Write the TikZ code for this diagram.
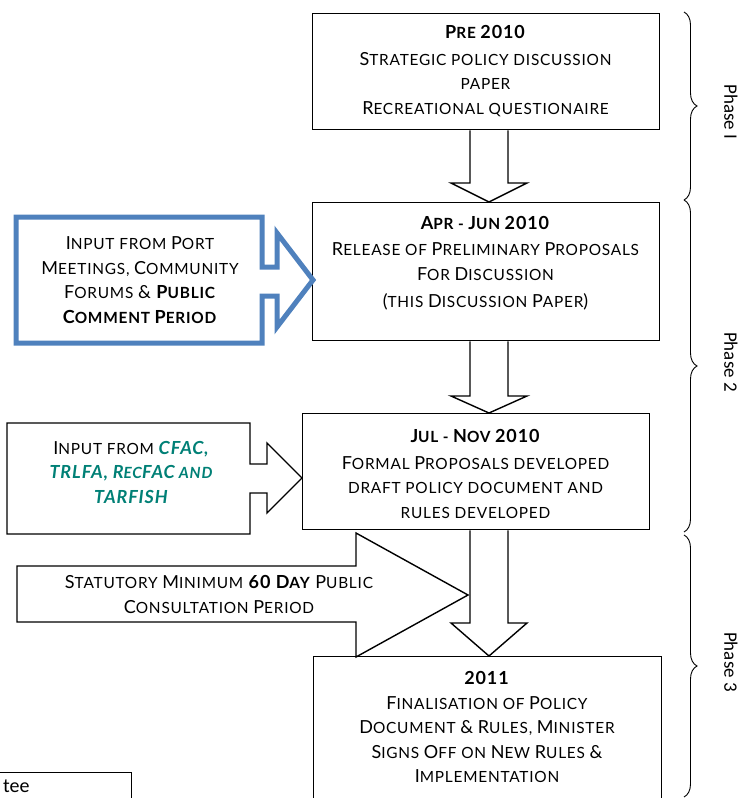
\documentclass[tikz,border=0pt]{standalone}
\usepackage{fontspec}
\setmainfont{Lato}
\newfontfamily\gl{Lato}[LetterSpace=5]
\newfontfamily\calib{Carlito}
\usetikzlibrary{calc,decorations.pathreplacing}
\definecolor{blueA}{RGB}{79,129,189}
\definecolor{tealA}{RGB}{0,128,118}
\newcommand\Bc[1]{{\fontsize{18}{24.5}\selectfont #1}}
\newcommand\tl[1]{{\color{tealA}\bfseries\itshape #1}}
\begin{document}
\begin{tikzpicture}[x=1pt,y=-1pt,
  box/.style={draw, line width=1.4pt, inner sep=0pt, anchor=north west, fill=white},
  txt/.style={align=center, inner sep=0pt, font=\gl\fontsize{15.4}{24.5}\selectfont},
  blk/.style={fill=white, draw=black, line width=1.4pt, line join=miter},
  bluearrow/.style={draw=blueA, line width=5pt, line join=miter, fill=white},
  phase/.style={font=\calib\fontsize{19}{22}\selectfont, rotate=-90, inner sep=0pt},
  brc/.style={decorate, decoration={brace, amplitude=13pt}, line width=0.9pt}]
\clip (0,0) rectangle (741,798);
\useasboundingbox (0,0) rectangle (741,798);
\coordinate (ax) at (489,0);

% main boxes
\node[box, minimum width=347pt, minimum height=116pt] (b1) at (312,13) {};
\node[box, minimum width=347pt, minimum height=138pt] (b2) at (312,202) {};
\node[box, minimum width=347pt, minimum height=116pt] (b3) at (302,413) {};
\node[box, minimum width=348pt, minimum height=170pt] (b4) at (313,656) {};

\node[txt] (t1) at (485.5,71) {\textbf{\Bc{P}RE \Bc{2010}}\\[2pt] \Bc{S}TRATEGIC POLICY DISCUSSION\\ PAPER\\ \Bc{R}ECREATIONAL QUESTIONAIRE};
\node[txt] (t2) at (485.5,263) {\textbf{\Bc{A}PR - \Bc{J}UN \Bc{2010}}\\[2pt] \Bc{R}ELEASE OF \Bc{P}RELIMINARY \Bc{P}ROPOSALS\\ \Bc{F}OR \Bc{D}ISCUSSION\\[3pt] \Bc{(}THIS \Bc{D}ISCUSSION \Bc{P}APER\Bc{)}};
\node[txt] (t3) at (475.5,474) {\textbf{\Bc{J}UL - \Bc{N}OV \Bc{2010}}\\[2pt] \Bc{F}ORMAL \Bc{P}ROPOSALS DEVELOPED\\ DRAFT POLICY DOCUMENT AND\\ RULES DEVELOPED};
\node[txt] (t4) at (487,727) {\textbf{\Bc{2011}}\\ \Bc{F}INALISATION OF \Bc{P}OLICY\\ \Bc{D}OCUMENT \Bc{\&} \Bc{R}ULES, \Bc{M}INISTER\\ \Bc{S}IGNS \Bc{O}FF ON \Bc{N}EW \Bc{R}ULES \Bc{\&}\\ \Bc{I}MPLEMENTATION};

% left input arrows
\filldraw[bluearrow] (16,217) -- (262,217) -- (262,267) -- (277,267) -- (277,233) -- (313,280) -- (277,327) -- (277,296) -- (262,296) -- (262,343) -- (16,343) -- cycle;
\node[txt] (in1) at (140,280) {\Bc{I}NPUT FROM \Bc{P}ORT\\ \Bc{M}EETINGS, \Bc{C}OMMUNITY\\ \Bc{F}ORUMS \Bc{\&} \textbf{\Bc{P}UBLIC}\\ \textbf{\Bc{C}OMMENT \Bc{P}ERIOD}};

\filldraw[blk] (7,423) -- (250,423) -- (250,464) -- (267,464) -- (267,443) -- (302,478) -- (267,513) -- (267,493) -- (250,493) -- (250,534) -- (7,534) -- cycle;
\node[txt] (in2) at (131,472) {\Bc{I}NPUT FROM \tl{\Bc{CFAC,}}\\ \tl{\Bc{TRLFA, R}EC\Bc{FAC} AND}\\ \tl{\Bc{TARFISH}}};

\filldraw[blk] (17,566) -- (356,566) -- (356,533) -- (468,595) -- (356,657) -- (356,622) -- (17,622) -- cycle;
\node[txt] (in3) at (219,594.5) {\Bc{S}TATUTORY \Bc{M}INIMUM \textbf{\Bc{60 D}AY} \Bc{P}UBLIC\\ \Bc{C}ONSULTATION \Bc{P}ERIOD};

% down block arrows
\newcommand\downblk[3]{%
 \path (#1.south -| ax) coordinate (s) (#2.north -| ax) coordinate (e);
 \filldraw[blk] ($(s)+(-19,0)$) -- ($(e)+(-19,-#3)$) -- ($(e)+(-38,-#3)$) -- (e) -- ($(e)+(38,-#3)$) -- ($(e)+(19,-#3)$) -- ($(s)+(19,0)$);}
\downblk{b1}{b2}{19}
\downblk{b2}{b3}{17}
\downblk{b3}{b4}{33}

% braces and phases
\draw[brc] (684,12) -- (684,200);
\draw[brc] (684,200) -- (684,532);
\draw[brc] (684,535) -- (684,797);
\node[phase] (p1) at (731,112) {Phase I};
\node[phase] (p2) at (731,362) {Phase 2};
\node[phase] (p3) at (731,662) {Phase 3};

% partial box bottom-left
\node[draw, line width=1.2pt, anchor=north east, minimum width=300pt, minimum height=100pt, inner sep=0pt] (cbox) at (132,772) {};
\node[font=\calib\fontsize{20}{24}\selectfont, anchor=west, inner sep=0pt] (ctext) at (3,786) {tee};
\end{tikzpicture}
\end{document}
